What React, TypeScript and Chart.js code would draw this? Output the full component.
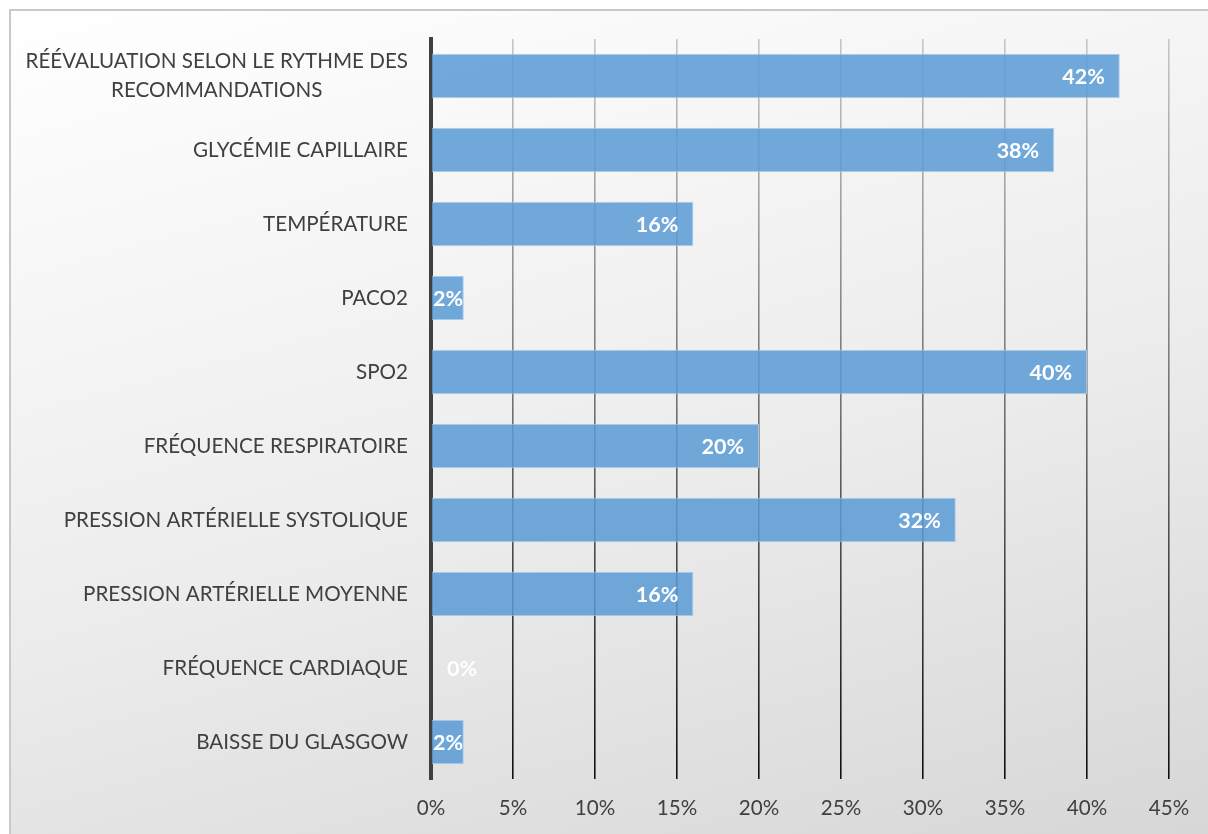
import React, { useEffect, useRef } from "react";
import { Chart, registerables } from "chart.js";

Chart.register(...registerables);

const categories: (string | string[])[] = [
  ["RÉÉVALUATION SELON LE RYTHME DES", "RECOMMANDATIONS"],
  "GLYCÉMIE CAPILLAIRE",
  "TEMPÉRATURE",
  "PACO2",
  "SPO2",
  "FRÉQUENCE RESPIRATOIRE",
  "PRESSION ARTÉRIELLE SYSTOLIQUE",
  "PRESSION ARTÉRIELLE MOYENNE",
  "FRÉQUENCE CARDIAQUE",
  "BAISSE DU GLASGOW",
];
const values = [42, 38, 16, 2, 40, 20, 32, 16, 0, 2];
const xMin = 0;
const xMax = 45;
const xStep = 5;

const FONT = "Lato, 'Open Sans', sans-serif";
const TEXT_COLOR = "#404040";

const labelsPlugin = {
  id: "customLabels",
  afterDraw(chart: any) {
    const ctx = chart.ctx as CanvasRenderingContext2D;
    const ys = chart.scales.y;
    const xs = chart.scales.x;
    ctx.save();
    // category labels (multi-line centred like Excel)
    ctx.font = `20.6px ${FONT}`;
    ctx.fillStyle = TEXT_COLOR;
    ctx.textAlign = "center";
    ctx.textBaseline = "middle";
    categories.forEach((lab, i) => {
      const y = ys.getPixelForValue(i);
      const lines = Array.isArray(lab) ? lab : [lab];
      const maxW = Math.max(...lines.map((l) => ctx.measureText(l).width));
      const cx = chart.chartArea.left - 23 - maxW / 2;
      lines.forEach((l, j) => {
        ctx.fillText(l, cx, y + (j - (lines.length - 1) / 2) * 29);
      });
    });
    // data labels
    const meta = chart.getDatasetMeta(0);
    const base = xs.getPixelForValue(0);
    ctx.font = `bold 21.5px ${FONT}`;
    ctx.fillStyle = "#ffffff";
    ctx.textAlign = "right";
    meta.data.forEach((bar: any, i: number) => {
      const txt = values[i] + "%";
      const w = ctx.measureText(txt).width;
      let right: number;
      if (values[i] === 0) right = base + 16 + w;
      else right = Math.max(bar.x - 15, base + 2 + w);
      ctx.fillText(txt, right, bar.y + 1);
    });
    ctx.restore();
  },
};

export default function App() {
  const ref = useRef<HTMLCanvasElement | null>(null);

  useEffect(() => {
    if (!ref.current) return;
    const chart = new Chart(ref.current, {
      type: "bar",
      data: {
        labels: categories as any,
        datasets: [
          {
            data: values,
            backgroundColor: "rgba(91,155,213,0.86)",
            borderColor: "rgba(170,203,235,0.9)",
            borderWidth: 1,
            barPercentage: 0.6,
            categoryPercentage: 1,
          },
        ],
      },
      options: {
        indexAxis: "y",
        animation: false,
        responsive: false,
        layout: { padding: { left: 0, right: 58, top: 28, bottom: 0 } },
        plugins: {
          legend: { display: false },
          tooltip: { enabled: false },
        },
        scales: {
          x: {
            min: xMin,
            max: xMax,
            position: "bottom",
            border: { display: false },
            grid: {
              drawTicks: false,
              lineWidth: 1.6,
              color: (c: any) => {
                const ch = c.chart;
                const a = ch.chartArea;
                if (!a) return "#888";
                const g = ch.ctx.createLinearGradient(0, a.top, 0, a.bottom);
                g.addColorStop(0, "#c6c6c6");
                g.addColorStop(0.5, "#707070");
                g.addColorStop(1, "#101010");
                return g;
              },
            },
            ticks: {
              stepSize: xStep,
              padding: 17,
              color: TEXT_COLOR,
              font: { family: FONT, size: 20.6 },
              callback: (v: any) => v + "%",
            },
            afterFit: (s: any) => {
              s.height = 68;
            },
          },
          y: {
            z: 1,
            grid: { display: false },
            border: { display: true, color: "#404040", width: 4 },
            ticks: { display: false },
            afterFit: (s: any) => {
              s.width = 420;
            },
          },
        },
      },
      plugins: [labelsPlugin],
    });
    return () => chart.destroy();
  }, []);

  return (
    <div
      style={{
        position: "fixed",
        left: 9,
        top: 9,
        width: 1220,
        height: 840,
        boxSizing: "border-box",
        border: "2px solid #c9c9c9",
        background: "linear-gradient(165deg, #ffffff 0%, #ececec 55%, #d6d6d6 100%)",
        overflow: "hidden",
      }}
    >
      <canvas ref={ref} width={1216} height={836} style={{ display: "block" }} />
    </div>
  );
}
